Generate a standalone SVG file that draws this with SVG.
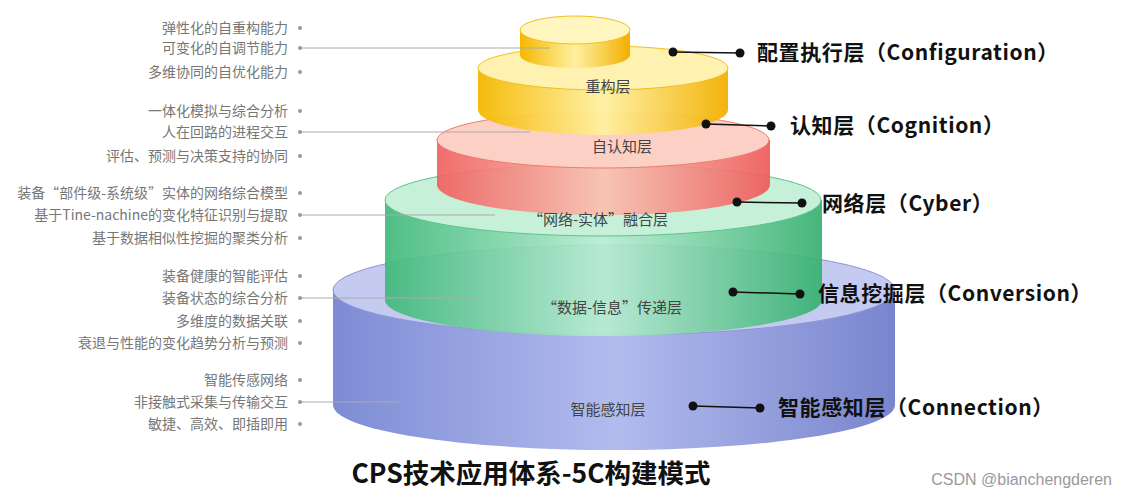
<svg xmlns="http://www.w3.org/2000/svg" width="1128" height="499" viewBox="0 0 1128 499">
<style>
.l{font-family:"Noto Sans CJK SC","Liberation Sans",sans-serif;font-size:14px;fill:#777;text-anchor:end}
.in{font-family:"Noto Sans CJK SC","Liberation Sans",sans-serif;font-size:15px;fill:#444;text-anchor:middle}
.r{font-family:"Noto Sans CJK SC","Liberation Sans",sans-serif;font-size:21px;font-weight:bold;fill:#111;letter-spacing:0.6px}
.gl{stroke:#aaa;stroke-width:1;fill:none}
.bl{stroke:#111;stroke-width:1.5;fill:none}
</style>
<defs>
<linearGradient id="gb" x1="0" x2="1"><stop offset="0" stop-color="#6f7fd0"/><stop offset="0.5" stop-color="#aab4ec"/><stop offset="1" stop-color="#6a78c8"/></linearGradient>
<linearGradient id="gg" x1="0" x2="1"><stop offset="0" stop-color="#3fb97a"/><stop offset="0.5" stop-color="#b6ecd0"/><stop offset="1" stop-color="#36b070"/></linearGradient>
<linearGradient id="gr" x1="0" x2="1"><stop offset="0" stop-color="#f06060"/><stop offset="0.5" stop-color="#fbc0b0"/><stop offset="1" stop-color="#ee5a5a"/></linearGradient>
<linearGradient id="gy" x1="0" x2="1"><stop offset="0" stop-color="#f5b800"/><stop offset="0.5" stop-color="#fff0a0"/><stop offset="1" stop-color="#f2b000"/></linearGradient>
</defs>
<rect width="1128" height="499" fill="#fff"/>
<g id="layer-connection">
<path d="M333 290 L333 405 A281 45 0 0 0 895 405 L895 290 Z" fill="url(#gb)" opacity="0.9"/>
<ellipse cx="614" cy="290" rx="281" ry="45" fill="#c5caf0" stroke="#8d96d8"/>
</g>
<g id="layer-conversion">
<path d="M385 200 L385 300 A218 36 0 0 0 822 300 L822 200 Z" fill="url(#gg)" opacity="0.92"/>
<ellipse cx="603" cy="200" rx="218" ry="36" fill="#c6f0d8" stroke="#5cc48c"/>
</g>
<g id="layer-cyber">
<path d="M437 140 L437 185 A166 30 0 0 0 770 185 L770 140 Z" fill="url(#gr)" opacity="0.92"/>
<ellipse cx="603" cy="140" rx="166" ry="28" fill="#fcd0c4" stroke="#f07a70"/>
</g>
<g id="layer-cognition">
<path d="M478 68 L478 110 A125 25 0 0 0 728 110 L728 68 Z" fill="url(#gy)" opacity="0.95"/>
<ellipse cx="603" cy="68" rx="125" ry="22" fill="#fff2b0" stroke="#f0c020"/>
</g>
<g id="layer-config">
<path d="M520 30 L520 55 A55 13 0 0 0 630 55 L630 30 Z" fill="url(#gy)"/>
<ellipse cx="575" cy="30" rx="55" ry="14" fill="#fff6c0" stroke="#f0c020"/>
</g>
<g id="inner-labels">
<text class="in" x="608" y="92">重构层</text>
<text class="in" x="622" y="152">自认知层</text>
<text class="in" x="598" y="225">“网络-实体”融合层</text>
<text class="in" x="612" y="313">“数据-信息”传递层</text>
<text class="in" x="608" y="415">智能感知层</text>
</g>
<g id="connectors">
<path class="gl" d="M300 48 H550 M300 132 H530 M300 215 H495 M300 298 H475 M300 402 H400"/>
<g fill="#999">
<circle cx="300" cy="28" r="2"/><circle cx="300" cy="48" r="2"/><circle cx="300" cy="72" r="2"/>
<circle cx="300" cy="111" r="2"/><circle cx="300" cy="132" r="2"/><circle cx="300" cy="156" r="2"/>
<circle cx="300" cy="193" r="2"/><circle cx="300" cy="215" r="2"/><circle cx="300" cy="238" r="2"/>
<circle cx="300" cy="276" r="2"/><circle cx="300" cy="298" r="2"/><circle cx="300" cy="321" r="2"/><circle cx="300" cy="343" r="2"/>
<circle cx="300" cy="380" r="2"/><circle cx="300" cy="402" r="2"/><circle cx="300" cy="424" r="2"/>
</g>
<path class="bl" d="M673 52 L740 53 M706 124 L771 126 M737 202 L802 203 M733 292 L800 294 M693 406 L760 408"/>
<g fill="#111">
<circle cx="673" cy="52" r="4.5"/><circle cx="740" cy="53" r="4.5"/>
<circle cx="706" cy="124" r="4.5"/><circle cx="771" cy="126" r="4.5"/>
<circle cx="737" cy="202" r="4.5"/><circle cx="802" cy="203" r="4.5"/>
<circle cx="733" cy="292" r="4.5"/><circle cx="800" cy="294" r="4.5"/>
<circle cx="693" cy="406" r="4.5"/><circle cx="760" cy="408" r="4.5"/>
</g>
</g>
<g id="left-labels">
<text class="l" x="288" y="33">弹性化的自重构能力</text>
<text class="l" x="288" y="53">可变化的自调节能力</text>
<text class="l" x="288" y="77">多维协同的自优化能力</text>
<text class="l" x="288" y="116">一体化模拟与综合分析</text>
<text class="l" x="288" y="137">人在回路的进程交互</text>
<text class="l" x="288" y="161">评估、预测与决策支持的协同</text>
<text class="l" x="288" y="198">装备“部件级-系统级”实体的网络综合模型</text>
<text class="l" x="288" y="220">基于Tine-nachine的变化特征识别与提取</text>
<text class="l" x="288" y="243">基于数据相似性挖掘的聚类分析</text>
<text class="l" x="288" y="281">装备健康的智能评估</text>
<text class="l" x="288" y="303">装备状态的综合分析</text>
<text class="l" x="288" y="326">多维度的数据关联</text>
<text class="l" x="288" y="348">衰退与性能的变化趋势分析与预测</text>
<text class="l" x="288" y="385">智能传感网络</text>
<text class="l" x="288" y="407">非接触式采集与传输交互</text>
<text class="l" x="288" y="429">敏捷、高效、即插即用</text>
</g>
<g id="right-labels">
<text class="r" x="757" y="60">配置执行层（Configuration）</text>
<text class="r" x="790" y="133">认知层（Cognition）</text>
<text class="r" x="822" y="211">网络层（Cyber）</text>
<text class="r" x="818" y="301">信息挖掘层（Conversion）</text>
<text class="r" x="778" y="415">智能感知层（Connection）</text>
</g>
<text x="531" y="483" font-family="Noto Sans CJK SC,Liberation Sans,sans-serif" font-size="26.5" font-weight="bold" fill="#111" text-anchor="middle">CPS技术应用体系-5C构建模式</text>
<text x="1112" y="485" font-family="Liberation Sans,Noto Sans CJK SC,sans-serif" font-size="16" fill="#999" text-anchor="end">CSDN @bianchengderen</text>
</svg>
